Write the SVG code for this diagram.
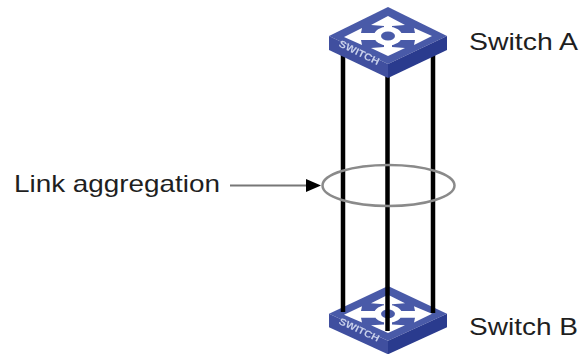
<svg xmlns="http://www.w3.org/2000/svg" width="579" height="354" viewBox="0 0 579 354">
<style>
text{font-family:"Liberation Sans",Arial,sans-serif;font-size:24px;fill:#1f1f1f}
.top{fill:#4a5aa8}.left{fill:#3f4f9f}.right{fill:#2a3a8e}
.g{fill:#fff}
.sw{font-size:10px;font-weight:bold;fill:#c8d0ea}
.link{stroke:#000;stroke-width:4.500;fill:none}
</style>
<defs>
<filter id="soft" x="-5%" y="-5%" width="110%" height="110%"><feGaussianBlur stdDeviation="0.5"/></filter>
<g id="sw" filter="url(#soft)">
<path class="top" d="M59 0L118 29L59 57L0 29Z"/>
<path class="left" d="M0 29L59 57V71L0 43Z"/>
<path class="right" d="M118 29L59 57V71L118 43Z"/>
<path class="g" d="M59 9L76 18L63 19V24H55V19L42 18Z"/>
<path class="g" d="M59 49L76 41L63 40V34H55V40L42 41Z"/>
<path class="g" d="M15 30L33 21L32 26H46V33H32L33 38Z"/>
<path class="g" d="M103 29L85 21L86 26H72V33H86L85 38Z"/>
<ellipse cx="59" cy="29" rx="14" ry="9.500" fill="#fff"/>
<ellipse cx="59" cy="29" rx="7" ry="4.500" fill="#4a5aa8"/>
<text class="sw" transform="translate(9 39) rotate(26)" textLength="44" lengthAdjust="spacingAndGlyphs">SWITCH</text>
</g>
</defs>
<g id="switch-b"><use href="#sw" transform="translate(329 286) scale(1 .96)"/></g>
<g id="connectors">
<path class="link" d="M343 55V312M387.500 76V331M433 55V313"/>
</g>
<g id="switch-a"><use href="#sw" x="329" y="7"/></g>
<g id="label-switch-a"><text x="469" y="49.500" textLength="109" lengthAdjust="spacingAndGlyphs">Switch A</text></g>
<g id="label-switch-b"><text x="469" y="335" textLength="109" lengthAdjust="spacingAndGlyphs">Switch B</text></g>
<g id="aggregation">
<ellipse cx="388.500" cy="185.500" rx="66" ry="20.500" fill="none" stroke="#8a8a8a" stroke-width="2.500"/>
<path d="M230 185.500H308" stroke="#777" stroke-width="2" fill="none"/>
<path d="M306 179L321 185.500L306 192Z" fill="#000"/>
<text x="14" y="192" textLength="206" lengthAdjust="spacingAndGlyphs">Link aggregation</text>
</g>
</svg>
